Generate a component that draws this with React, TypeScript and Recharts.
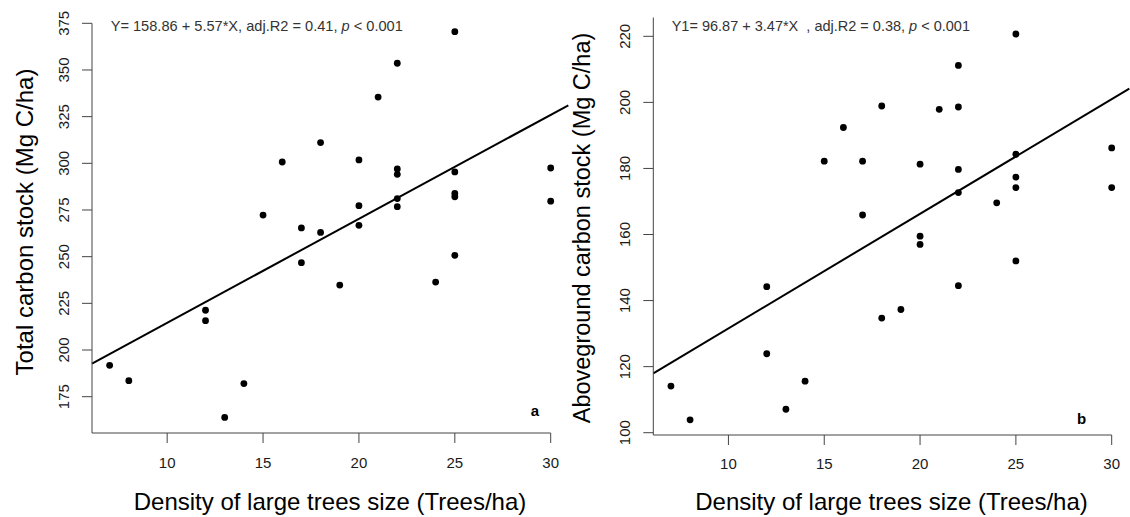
import React from 'react';
import { ScatterChart, Scatter, XAxis, YAxis, ReferenceLine } from 'recharts';

// Density of large trees (Trees/ha) for each plot
const density = [7, 8, 12, 12, 13, 14, 15, 16, 17, 17, 18, 18, 19, 20, 20, 20, 21, 22, 22, 22, 22, 22, 24, 25, 25, 25, 25, 25, 30, 30];
// Total carbon stock (Mg C/ha)
const totalCarbon = [191.8, 183.6, 221.3, 215.7, 163.9, 182.0, 272.3, 300.7, 265.4, 246.8, 311.1, 263.0, 234.8, 301.8, 277.3, 266.8, 335.5, 353.6, 297.0, 294.1, 281.1, 276.8, 236.4, 370.5, 295.4, 283.9, 282.1, 250.7, 297.5, 279.7];
// Aboveground carbon stock (Mg C/ha)
const agCarbon = [114.1, 103.9, 144.2, 123.9, 107.1, 115.6, 182.2, 192.4, 182.2, 165.9, 198.9, 134.7, 137.3, 181.3, 159.5, 157.0, 197.9, 211.2, 198.6, 179.7, 172.7, 144.5, 169.6, 220.7, 184.3, 177.4, 174.2, 152.0, 186.2, 174.2];

const xTicks = [10, 15, 20, 25, 30];
const totalTicks = [175, 200, 225, 250, 275, 300, 325, 350, 375];
const agTicks = [100, 120, 140, 160, 180, 200, 220];

const fitTotal = { intercept: 158.86, slope: 5.57 };
const fitAg = { intercept: 96.87, slope: 3.47 };
const fitXRange = [6.08, 30.92];

const FONT = "'Liberation Sans', Arial, Helvetica, sans-serif";

const toPoints = (xs: number[], ys: number[]) => xs.map((x, i) => ({ x, y: ys[i] }));
const fitSegment = (f: { intercept: number; slope: number }) =>
  fitXRange.map((x) => ({ x, y: f.intercept + f.slope * x }));

const YTick = (props: any) => {
  const { x, y, payload } = props;
  return (
    <text
      x={0}
      y={0}
      transform={`translate(${x},${y}) rotate(-90)`}
      textAnchor="middle"
      fontSize={15}
      fill="#1a1a1a"
      fontFamily={FONT}
    >
      {payload.value}
    </text>
  );
};

const Dot = (p: any) => <circle cx={p.cx} cy={p.cy} r={3.4} fill="#000" />;

const axisStroke = '#444';

function Panel(props: {
  left: number;
  width: number;
  yAxisWidth: number;
  top: number;
  right: number;
  xAxisHeight: number;
  xTickMargin: number;
  yDomain: number[];
  yTicks: number[];
  ys: number[];
  fit: { intercept: number; slope: number };
}) {
  const data = toPoints(density, props.ys);
  return (
    <div style={{ position: 'absolute', left: props.left, top: 0 }}>
      <ScatterChart
        width={props.width}
        height={517}
        margin={{ top: props.top, right: props.right, left: 0, bottom: 0 }}
      >
        <XAxis
          type="number"
          dataKey="x"
          domain={[6.08, 30]}
          ticks={xTicks}
          height={props.xAxisHeight}
          tickSize={10}
          tickMargin={props.xTickMargin}
          stroke={axisStroke}
          tick={{ fontSize: 15, fill: '#1a1a1a', fontFamily: FONT }}
        />
        <YAxis
          type="number"
          dataKey="y"
          domain={props.yDomain}
          ticks={props.yTicks}
          width={props.yAxisWidth}
          tickSize={10}
          tickMargin={13}
          stroke={axisStroke}
          tick={<YTick />}
        />
        <ReferenceLine
          segment={fitSegment(props.fit)}
          ifOverflow="visible"
          stroke="#000"
          strokeWidth={2}
        />
        <Scatter data={data} shape={<Dot />} isAnimationActive={false} />
      </ScatterChart>
    </div>
  );
}

const textBase: React.CSSProperties = {
  position: 'absolute',
  fontFamily: FONT,
  whiteSpace: 'nowrap',
  lineHeight: 1,
};

export default function App() {
  return (
    <div style={{ position: 'absolute', left: 0, top: 0, width: 1130, height: 517, background: '#fff' }}>
      <Panel
        left={0}
        width={575}
        yAxisWidth={92}
        top={23.3}
        right={24.3}
        xAxisHeight={84}
        xTickMargin={14}
        yDomain={[155.55, 375]}
        yTicks={totalTicks}
        ys={totalCarbon}
        fit={fitTotal}
      />
      <Panel
        left={580}
        width={550}
        yAxisWidth={73.3}
        top={17.5}
        right={18.3}
        xAxisHeight={82}
        xTickMargin={13}
        yDomain={[99.3, 225.7]}
        yTicks={agTicks}
        ys={agCarbon}
        fit={fitAg}
      />

      {/* equations */}
      <div style={{ ...textBase, left: 110.7, top: 26, transform: 'translateY(-50%)', fontSize: 14.6, color: '#333' }}>
        Y= 158.86 + 5.57*X, adj.R2 = 0.41, <i>p</i> &lt; 0.001
      </div>
      <div style={{ ...textBase, left: 671.7, top: 26, transform: 'translateY(-50%)', fontSize: 14.5, color: '#333' }}>
        Y1= 96.87 + 3.47*X&nbsp;&nbsp;, adj.R2 = 0.38, <i>p</i> &lt; 0.001
      </div>

      {/* panel letters */}
      <div style={{ ...textBase, left: 535, top: 410, transform: 'translate(-50%,-50%)', fontSize: 15, fontWeight: 'bold', color: '#000' }}>a</div>
      <div style={{ ...textBase, left: 1081.7, top: 418, transform: 'translate(-50%,-50%)', fontSize: 15, fontWeight: 'bold', color: '#000' }}>b</div>

      {/* axis titles */}
      <div style={{ ...textBase, left: 330, top: 501.7, transform: 'translate(-50%,-50%)', fontSize: 24, color: '#000' }}>
        Density of large trees size (Trees/ha)
      </div>
      <div style={{ ...textBase, left: 891.5, top: 501.7, transform: 'translate(-50%,-50%)', fontSize: 24, color: '#000' }}>
        Density of large trees size (Trees/ha)
      </div>
      <div style={{ ...textBase, left: 25, top: 222, transform: 'translate(-50%,-50%) rotate(-90deg)', fontSize: 24, color: '#000' }}>
        Total carbon stock (Mg C/ha)
      </div>
      <div style={{ ...textBase, left: 583, top: 228, transform: 'translate(-50%,-50%) rotate(-90deg)', fontSize: 23.5, color: '#000' }}>
        Aboveground carbon stock (Mg C/ha)
      </div>
    </div>
  );
}
